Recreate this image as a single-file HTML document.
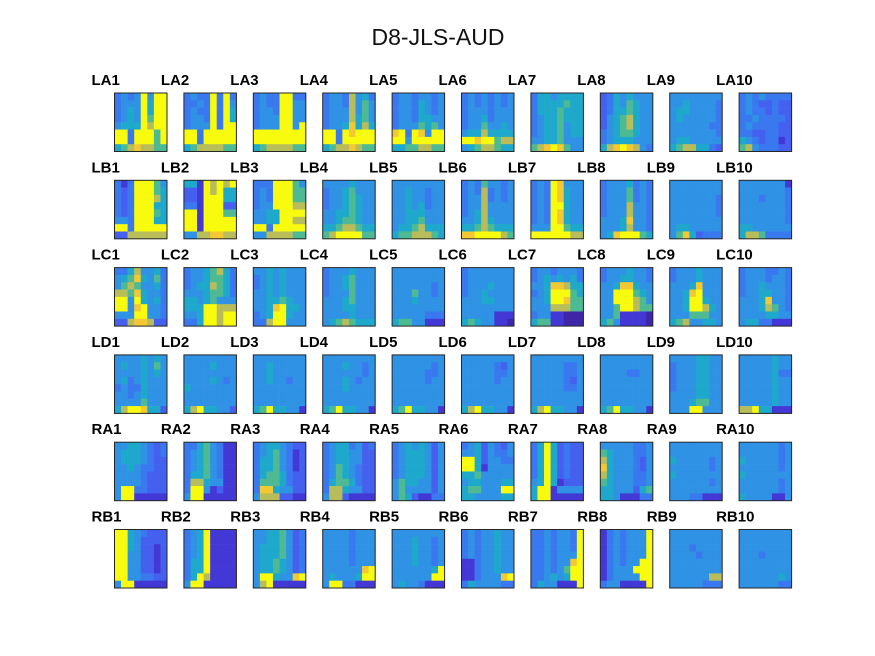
<!DOCTYPE html>
<html><head><meta charset="utf-8"><style>
body{margin:0;background:#fff;}
#wrap{position:relative;width:875px;height:656px;overflow:hidden;font-family:"Liberation Sans",sans-serif;}
</style></head><body>
<div id="wrap">
<svg id="svg" width="875" height="656" viewBox="0 0 875 656">
<rect x="0" y="0" width="875" height="656" fill="#fff"/>
<text x="438" y="45" text-anchor="middle" font-size="23" font-family="Liberation Sans, sans-serif" fill="#111">D8-JLS-AUD</text>
</svg>
</div>
<script>
const rowLetters = ["LA","LB","LC","LD","RA","RB"];
const colNumbers = [1,2,3,4,5,6,7,8,9,10];
const panelGrids = [
["34349499","34449599","34549599","34549699","45559799","99399969","99399969","56787766"],
["34339393","33439394","34339395","34439395","34449399","99399999","99399999","56777766"],
["34339933","34339944","34439944","34449944","34449949","99999999","99999999","56777766"],
["34437453","34437464","34447464","34447564","34458575","99398999","99399999","56778766"],
["34434434","34435434","34435434","34435544","34446564","89398499","99499999","55667766"],
["34343434","34343434","34443444","34453444","34464454","45575555","99899677","45677655"],
["35545555","35555655","35556555","34556555","34556455","34556455","44556444","67898644"],
["23545444","23546544","23556544","24567544","24567544","34566544","34555444","57898743"],
["44444444","44544443","45544443","45444443","44444433","44444443","45544444","56775532"],
["34343333","34322322","34332322","33433332","34333322","33223322","54323312","67433322"],
["31399964","32399965","32399975","32399955","32399965","44399955","99399999","22777777"],
["55197979","22197955","22199955","33199922","99199966","99199999","99199999","44778877"],
["33399964","34399966","34399966","34499977","44559999","44559977","99399999","44777766"],
["44445444","34456444","34456544","34456544","44556544","44566544","55677655","67999966"],
["44444444","44544344","44544344","44545344","44555444","44556444","45567555","56677765"],
["34364434","34373434","34473434","34474444","34574444","44575444","55676555","88999976"],
["34398444","34398544","34398544","34399544","34398544","34398544","44499655","99999977"],
["34445343","34446343","34446343","34447443","34447443","44458443","44457443","45899965"],
["44444444","44444444","44444443","44444443","44444443","44444444","45544444","46852333"],
["44444441","44444443","44434443","44444443","44444443","44444443","55444444","57763333"],
["33574453","45685463","46764453","77685443","99495453","99489443","44499443","22788722"],
["34456753","34456653","34557653","44456653","55456444","55599777","44599799","33599799"],
["44545444","34545444","34545444","44545444","44556544","44589554","34599544","33799444"],
["34445444","34456444","34456444","34446444","44456444","44455444","44445444","45676555"],
["44444444","44444444","44444434","44464434","44454444","44444444","44444333","56644111"],
["34444444","34444444","34445444","34454444","44455444","44444444","44444111","56544110"],
["34434443","34545453","44588755","34599965","44599866","44477766","34411000","56611000"],
["34445443","34455443","44588544","44999654","44999764","44699766","44611110","56411110"],
["34445444","34445444","44458444","44589444","44599544","44599754","44466644","56744554"],
["34443343","34443443","34454443","34455443","44458443","44457643","44445544","45533111"],
["44445454","45445464","44445454","45345444","34335444","44345444","44446444","57998552"],
["44444444","44445444","44444444","44445434","54444444","44444444","44444444","57955442"],
["44444444","44544444","44544444","44544344","44444444","44444444","44444444","56955441"],
["44444444","44454434","44444434","44454344","44454444","44444444","44444444","56955441"],
["44444444","44444434","44444334","44444344","44444444","44444444","44444444","56955441"],
["44444444","44444324","44444334","44444344","44444444","44444444","44444444","57955441"],
["44444444","44444334","44444334","44444324","44444334","44444444","44444444","57955441"],
["44444444","44444444","44443344","44444444","44444444","44444444","44444444","56955441"],
["44445544","34445544","34445544","34445544","34445544","44445544","44456644","44499444"],
["44444544","44444544","44444533","44444544","44444544","44444544","44444544","77955111"],
["44554323","45554323","45554322","44543322","44443222","44443222","49933222","49911111"],
["33564311","34564311","34564311","34564311","35564311","37754411","39941211","49911111"],
["34554322","34564312","35564312","35564312","35665322","36665322","38854422","47772211"],
["34553423","34554422","34554422","34654322","34654322","35665322","37754422","47721111"],
["34545424","34555424","34555424","34555424","34555424","46554424","46444424","46521133"],
["34524324","44524334","99524433","99514444","55644444","45544455","56644499","55444455"],
["35952322","35952322","35952322","35952322","35952322","45951222","59914444","59911111"],
["44444334","65444334","75444324","85444324","75444334","65444334","55444256","55411133"],
["44444444","44444444","54444434","44444434","54444444","44444434","44444444","44433111"],
["44444434","44444434","54444434","44444434","54444444","44444434","44444434","54444114"],
["99543222","99542222","99542212","99442212","99442212","99442212","99443322","49911111"],
["34591111","34591111","34591111","34591111","35591111","35591111","35971111","49911111"],
["44556423","44556423","45556423","45556423","45565423","45565423","49954489","47911111"],
["44443444","44443444","44443444","44443444","44443444","44444489","45444599","49933111"],
["44444444","44454434","44454434","44454434","44454434","44444459","44444499","45443111"],
["34344544","34344544","34344544","34344544","11344544","11344544","11344489","35444433"],
["33434439","33434439","33434439","33434449","33434489","33434699","33454599","35441119"],
["13434449","13434449","13434449","13434449","13434499","13444999","13444499","34411119"],
["44444444","44444444","44434444","44443444","44444444","44444444","44444477","44444333"],
["44444444","44444444","44444444","44434444","44444444","44444444","44444454","44444433"]
];
const palette = ["#3e26a8","#4338d6","#4560ee","#3a78f0","#2f92e4","#1ea9cc","#4dba93","#b8bd5a","#f3c933","#f9fb0e"];
const NS = "http://www.w3.org/2000/svg";
const svg = document.getElementById("svg");
const X0 = 114.5, DX = 69.4, Y0 = 93, DY = 87.3, W = 52.5, H = 58.5;
function colX(c){ return X0 + c*DX; }
function rowY(r){ return Y0 + r*DY; }
rowLetters.forEach((L, r) => {
  colNumbers.forEach((n, c) => {
    const grid = panelGrids[r*10 + c];
    const g = document.createElementNS(NS, "g");
    
    
    const px = colX(c), py = rowY(r);
    const nr = grid.length, nc = grid[0].length;
    const cw = W / nc, ch = H / nr;
    grid.forEach((rowStr, i) => {
      for (let j = 0; j < nc; j++) {
        const v = +rowStr[j];
        const rc = document.createElementNS(NS, "rect");
        rc.setAttribute("x", (px + j*cw).toFixed(2));
        rc.setAttribute("y", (py + i*ch).toFixed(2));
        rc.setAttribute("width", (cw + 0.3).toFixed(2));
        rc.setAttribute("height", (ch + 0.3).toFixed(2));
        rc.setAttribute("fill", palette[v]);
        
        
        g.appendChild(rc);
      }
    });
    const b = document.createElementNS(NS, "rect");
    b.setAttribute("x", px);
    b.setAttribute("y", py);
    b.setAttribute("width", W);
    b.setAttribute("height", H);
    b.setAttribute("fill", "none");
    b.setAttribute("stroke", "#262626");
    b.setAttribute("stroke-width", "1");
    
    
    g.appendChild(b);
    const t = document.createElementNS(NS, "text");
    t.setAttribute("x", px - 23);
    t.setAttribute("y", py - 8);
    t.setAttribute("font-size", "15");
    t.setAttribute("font-weight", "bold");
    t.setAttribute("font-family", "Liberation Sans, sans-serif");
    t.setAttribute("fill", "#000");
    t.textContent = L + n;
    
    
    g.appendChild(t);
    svg.appendChild(g);
  });
});
</script>
</body></html>
